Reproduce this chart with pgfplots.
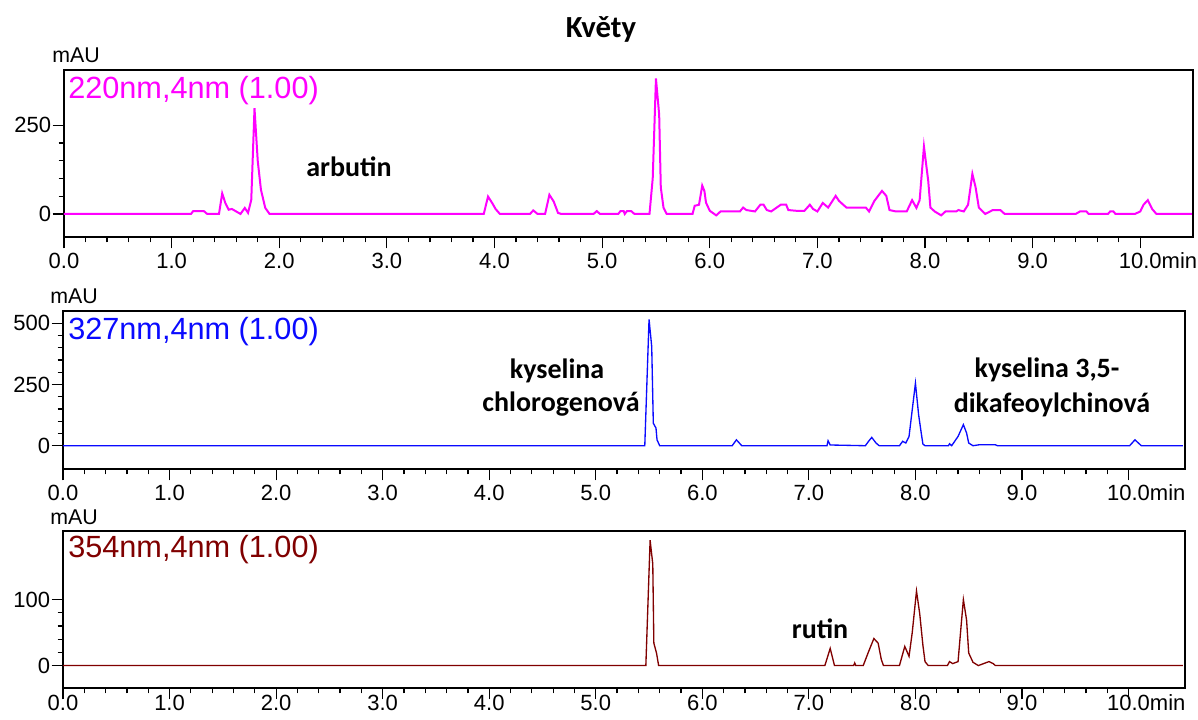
\documentclass[border=0pt]{standalone}
\usepackage{fontspec}
\setmainfont{Liberation Sans}
\newfontfamily\calib{Carlito}
\usepackage{pgfplots}
\pgfplotsset{compat=1.18}
\definecolor{c220}{RGB}{255,0,255}
\definecolor{c327}{RGB}{10,10,255}
\definecolor{c354}{RGB}{128,0,0}

\pgfplotsset{
  chrom/.style={
    scale only axis, anchor=south west,
    axis line style={line width=1.4pt},
    tick align=outside, xtick pos=bottom, ytick pos=left,
    major tick length=8.5pt, minor tick length=4pt,
    every tick/.style={black,line width=0.9pt},
    xtick={0,1,...,10}, minor x tick num=4, minor y tick num=4,
    xticklabels={0.0,1.0,2.0,3.0,4.0,5.0,6.0,7.0,8.0,9.0,10.0\rlap{min}},
    tick label style={font=\fontsize{16.5}{18}\selectfont},
    /pgf/number format/assume math mode=true,
    yticklabel style={inner xsep=1pt},
    enlargelimits=false, clip=false,
  },
}
\tikzset{lab/.style={font=\fontsize{16}{18}\selectfont,inner sep=0,anchor=base west}}

\begin{document}
\begin{tikzpicture}
\path[use as bounding box] (0,0) rectangle (898.5pt,540pt);

% 220 nm
\begin{axis}[chrom, at={(48pt,362.25pt)}, width=846.75pt, height=125.25pt,
  xmin=0, xmax=10.49, ymin=-65, ymax=406, ytick={0,250}]
\addplot[c220, line width=1.5pt] coordinates {
 (0,0) (1.18,0) (1.20,8) (1.30,8) (1.33,0) (1.44,0) (1.47,58) (1.50,30) (1.53,12)
 (1.56,14) (1.60,7) (1.64,0) (1.68,17) (1.71,3) (1.74,40) (1.77,298) (1.80,150)
 (1.83,68) (1.87,17) (1.91,0) (3.90,0) (3.94,49) (3.98,30) (4.01,14) (4.05,0)
 (4.33,0) (4.36,10) (4.40,0) (4.47,0) (4.51,54) (4.55,35) (4.59,3) (4.62,0)
 (4.92,0) (4.95,8) (4.98,0) (5.15,0) (5.17,8) (5.20,8) (5.21,0) (5.23,8) (5.27,8)
 (5.30,0) (5.44,0) (5.47,100) (5.50,382) (5.53,280) (5.545,75) (5.57,18) (5.60,0)
 (5.84,0) (5.86,23) (5.90,26) (5.93,80) (5.95,65) (5.965,32) (6.00,9) (6.06,-4)
 (6.10,7) (6.28,7) (6.31,18) (6.34,11) (6.42,7) (6.47,26) (6.50,26) (6.53,11)
 (6.57,7) (6.66,26) (6.71,26) (6.73,11) (6.80,9) (6.88,9) (6.93,26) (6.96,14)
 (7.00,7) (7.05,31) (7.10,18) (7.17,51) (7.20,37) (7.24,26) (7.27,18) (7.45,18)
 (7.48,7) (7.53,37) (7.60,65) (7.64,51) (7.67,11) (7.73,7) (7.83,7) (7.88,39)
 (7.92,17) (7.95,39) (7.99,190) (8.03,93) (8.05,18) (8.09,7) (8.15,-4) (8.19,7)
 (8.29,7) (8.31,11) (8.36,7) (8.40,26) (8.44,113) (8.47,75) (8.50,18) (8.56,0)
 (8.63,11) (8.70,11) (8.74,0) (9.40,0) (9.44,7) (9.50,7) (9.52,0) (9.70,0)
 (9.72,7) (9.75,7) (9.77,0) (9.95,0) (10.00,7) (10.03,26) (10.07,39) (10.11,14)
 (10.15,0) (10.48,0)};
\end{axis}

% 327 nm
\begin{axis}[chrom, at={(47.25pt,188.25pt)}, width=841.5pt, height=118.5pt,
  xmin=0, xmax=10.53, ymin=-95, ymax=550, ytick={0,250,500}]
\addplot[c327, line width=1pt] coordinates {
 (0,0) (5.46,0) (5.50,516) (5.525,405) (5.54,92) (5.565,72) (5.575,24) (5.60,0)
 (6.28,0) (6.32,24) (6.37,0) (7.17,0) (7.18,20) (7.20,3) (7.53,0) (7.56,18)
 (7.59,34) (7.63,11) (7.66,0) (7.85,0) (7.88,18) (7.91,11) (7.94,38) (8.00,255)
 (8.03,126) (8.05,65) (8.07,7) (8.09,0) (8.31,0) (8.32,8) (8.34,0) (8.40,38)
 (8.45,86) (8.48,52) (8.50,11) (8.54,0) (8.60,4) (8.75,4) (8.77,0) (10.01,0)
 (10.06,24) (10.12,0) (10.51,0)};
\end{axis}

% 354 nm
\begin{axis}[chrom, at={(47.25pt,24pt)}, width=841.5pt, height=117.75pt,
  xmin=0, xmax=10.53, ymin=-34, ymax=204, ytick={0,100},
  xticklabel style={yshift=7pt}]
\addplot[c354, line width=1pt] coordinates {
 (0,0) (5.47,0) (5.51,190) (5.535,154) (5.545,34) (5.57,19) (5.59,0) (7.15,0)
 (7.20,26) (7.24,0) (7.42,0) (7.43,4) (7.44,0) (7.51,0) (7.56,21) (7.61,41)
 (7.65,34) (7.68,9) (7.70,0) (7.85,0) (7.90,29) (7.94,14) (7.97,50) (8.01,113)
 (8.04,79) (8.07,31) (8.09,6) (8.12,0) (8.30,0) (8.32,6) (8.35,3) (8.40,6)
 (8.42,44) (8.45,100) (8.48,69) (8.50,19) (8.54,5) (8.59,0) (8.64,3) (8.69,6)
 (8.73,3) (8.75,0) (10.51,0)};
\end{axis}

% titles and labels
\node[anchor=base,font=\calib\bfseries\fontsize{23}{27}\selectfont] at (450.75pt,511.5pt) {Květy};
\node[lab] at (39pt,492.75pt) {mAU};
\node[lab] at (37.5pt,312pt) {mAU};
\node[lab] at (37.5pt,146.25pt) {mAU};
\node[lab,font=\fontsize{23}{27}\selectfont,text=c220] at (51pt,465.75pt) {220nm,4nm (1.00)};
\node[lab,font=\fontsize{23}{27}\selectfont,text=c327] at (51pt,285pt) {327nm,4nm (1.00)};
\node[lab,font=\fontsize{23}{27}\selectfont,text=c354] at (51pt,121.5pt) {354nm,4nm (1.00)};

\begin{scope}[every node/.style={anchor=base,inner sep=0,font=\calib\bfseries\fontsize{21}{24}\selectfont}]
\node at (261.75pt,407.25pt) {arbutin};
\node at (417.75pt,255.75pt) {kyselina};
\node at (420.75pt,231pt) {chlorogenová};
\node at (785.25pt,256.5pt) {kyselina 3,5-};
\node at (789pt,230.25pt) {dikafeoylchinová};
\node at (615pt,60.75pt) {rutin};
\end{scope}
\end{tikzpicture}
\end{document}
